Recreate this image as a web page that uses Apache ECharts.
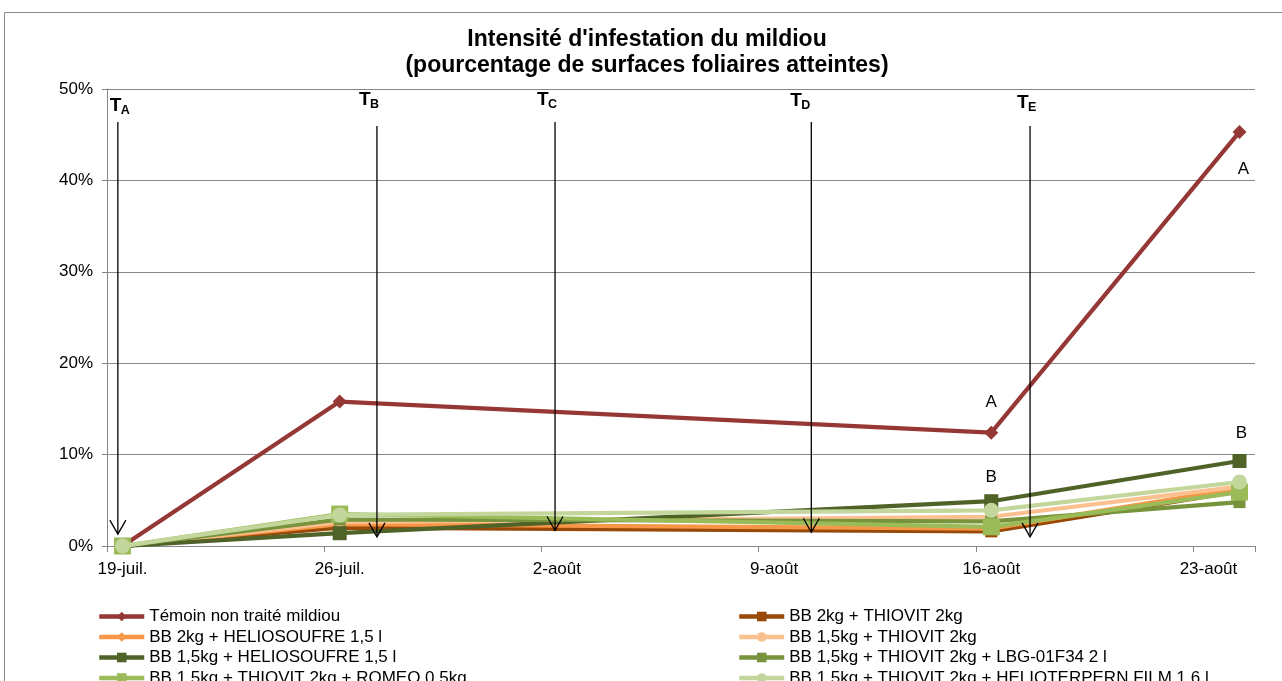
<!DOCTYPE html>
<html>
<head>
<meta charset="utf-8">
<script src="https://cdn.jsdelivr.net/npm/echarts@6/dist/echarts.min.js"></script>
<style>
html,body{margin:0;padding:0;background:#fff;}
#chart{width:1282px;height:681px;}
</style>
</head>
<body>
<div id="chart"></div>
<script>
// ---- data ----
const categories = [
  '19-juil.','20-juil.','21-juil.','22-juil.','23-juil.','24-juil.','25-juil.',
  '26-juil.','27-juil.','28-juil.','29-juil.','30-juil.','31-juil.',
  '1-août','2-août','3-août','4-août','5-août','6-août','7-août','8-août',
  '9-août','10-août','11-août','12-août','13-août','14-août','15-août',
  '16-août','17-août','18-août','19-août','20-août','21-août','22-août','23-août','24-août'
];
const sampleDates = ['19-juil.','26-juil.','16-août','24-août'];
const yTicks = [0, 10, 20, 30, 40, 50];

const seriesNames = [
  'Témoin non traité mildiou',
  'BB 2kg + THIOVIT 2kg',
  'BB 2kg + HELIOSOUFRE 1,5 l',
  'BB 1,5kg + THIOVIT 2kg',
  'BB 1,5kg + HELIOSOUFRE 1,5 l',
  'BB 1,5kg + THIOVIT 2kg + LBG-01F34 2 l',
  'BB 1,5kg + THIOVIT 2kg + ROMEO 0,5kg',
  'BB 1,5kg + THIOVIT 2kg + HELIOTERPERN FILM 1,6 l'
];
const temoin        = [0, 15.8, 12.4, 45.3];
const bb2Thiovit    = [0, 2.0, 1.6, 6.0];
const bb2Helio      = [0, 2.4, 1.9, 6.3];
const bb15Thiovit   = [0, 2.6, 3.2, 6.5];
const bb15Helio     = [0, 1.4, 4.9, 9.3];
const bb15Lbg       = [0, 2.9, 2.7, 4.8];
const bb15Romeo     = [0, 3.5, 2.1, 5.9];
const bb15Helioterp = [0, 3.4, 3.9, 7.0];
const seriesValues = [temoin, bb2Thiovit, bb2Helio, bb15Thiovit, bb15Helio, bb15Lbg, bb15Romeo, bb15Helioterp];

// statistical group letters
const temoinLetters = ['', '', 'A', 'A'];
const bb15HelioLetters = ['', '', 'B', 'B'];

// treatment arrows (day index from 19-juil., top value %, tip value %)
const arrowLetters = ['A', 'B', 'C', 'D', 'E'];
const arrowDays    = [-0.15, 8.2, 13.94, 22.2, 29.25];
const arrowTop     = [46.4, 45.95, 46.4, 46.4, 45.95];
const arrowTip     = [1.3, 1.0, 1.7, 1.5, 1.0];

// ---- styles ----
const FONT = '"Liberation Sans", Arial, sans-serif';
const colors  = ['#953735', '#984807', '#F79646', '#FAC090', '#4F6228', '#77933C', '#9BBB59', '#C3D69B'];
const symbols = ['diamond', 'rect', 'diamond', 'circle', 'rect', 'rect', 'rect', 'circle'];
const sizes   = [14, 12, 10, 10, 14, 12, 17, 15];
const tLabelOffset = [[-8, -24], [-18, -34], [-18, -30], [-21, -29], [-13, -31]];

const letterLabelStyle = {
  temoin: [null, null, {position: 'top', distance: 15, offset: [0, 0]}, {position: 'bottom', distance: 22, offset: [4, 0]}],
  helio:  [null, null, {position: 'top', distance: 8, offset: [0, 0]}, {position: 'top', distance: 12, offset: [2, 0]}]
};

function buildData(vals, letters, lstyle) {
  return vals.map((v, i) => {
    const item = {value: [sampleDates[i], v]};
    if (letters && letters[i]) {
      item.label = Object.assign({
        show: true, formatter: letters[i], color: '#000', fontSize: 17, fontFamily: FONT
      }, lstyle[i]);
    }
    return item;
  });
}

const lineSeries = seriesNames.map((name, k) => {
  let data;
  if (k === 0) data = buildData(seriesValues[k], temoinLetters, letterLabelStyle.temoin);
  else if (k === 4) data = buildData(seriesValues[k], bb15HelioLetters, letterLabelStyle.helio);
  else data = buildData(seriesValues[k]);
  return {
    name: name,
    type: 'line',
    xAxisIndex: 0,
    yAxisIndex: 0,
    data: data,
    connectNulls: true,
    symbol: symbols[k],
    symbolSize: sizes[k],
    showAllSymbol: true,
    lineStyle: {color: colors[k], width: 4.2},
    itemStyle: {color: colors[k]},
    emphasis: {disabled: true},
    animation: false,
    z: 2 + k
  };
});

const arrowSeries = {
  type: 'custom',
  xAxisIndex: 1,
  yAxisIndex: 0,
  z: 20,
  silent: true,
  animation: false,
  data: arrowDays.map((d, i) => [d, arrowTop[i], arrowTip[i]]),
  renderItem: function (params, api) {
    const i = params.dataIndex;
    const x = api.value(0);
    const p1 = api.coord([x, api.value(1)]);
    const p2 = api.coord([x, api.value(2)]);
    const off = tLabelOffset[i];
    const lx = p1[0] + off[0];
    const ly = p1[1] + off[1];
    return {
      type: 'group',
      children: [
        {type: 'line', shape: {x1: p1[0], y1: p1[1], x2: p2[0], y2: p2[1]},
         style: {stroke: '#000', lineWidth: 1.3}},
        {type: 'polyline', shape: {points: [[p2[0] - 8, p2[1] - 14], [p2[0], p2[1]], [p2[0] + 8, p2[1] - 14]]},
         style: {stroke: '#000', fill: null, lineWidth: 1.3}},
        {type: 'text', x: lx, y: ly - 2,
         style: {text: 'T', font: 'bold 19px ' + FONT, fill: '#000', verticalAlign: 'top', align: 'left'}},
        {type: 'text', x: lx + 11, y: ly + 6,
         style: {text: arrowLetters[i], font: 'bold 12.5px ' + FONT, fill: '#000', verticalAlign: 'top', align: 'left'}}
      ]
    };
  }
};

const legendCommon = {
  orient: 'vertical', top: 608, height: 120, padding: 0,
  itemWidth: 45, itemHeight: 12, itemGap: 3.5,
  textStyle: {fontSize: 17, color: '#000', fontFamily: FONT},
  lineStyle: {width: 4.5},
  selectedMode: false
};

const chart = echarts.init(document.getElementById('chart'), null, {renderer: 'canvas'});
chart.setOption({
  animation: false,
  backgroundColor: '#fff',
  textStyle: {fontFamily: FONT},
  title: {
    text: "Intensité d'infestation du mildiou\n(pourcentage de surfaces foliaires atteintes)",
    left: 642,
    top: 22,
    textAlign: 'center',
    textStyle: {fontSize: 23, fontWeight: 'bold', color: '#000', lineHeight: 26, fontFamily: FONT}
  },
  graphic: [{
    type: 'rect', silent: true,
    shape: {x: 4.5, y: 12.5, width: 1400, height: 800},
    style: {fill: null, stroke: '#888', lineWidth: 1}
  }],
  legend: [
    Object.assign({}, legendCommon, {
      left: 97,
      data: [seriesNames[0], seriesNames[2], seriesNames[4], seriesNames[6]]
    }),
    Object.assign({}, legendCommon, {
      left: 737,
      data: [seriesNames[1], seriesNames[3], seriesNames[5], seriesNames[7]]
    })
  ],
  grid: {left: 107, right: 27, top: 89, bottom: 135, containLabel: false},
  xAxis: [
    {
      type: 'category',
      data: categories,
      boundaryGap: true,
      axisLine: {show: true, onZero: false, lineStyle: {color: '#868686', width: 1}},
      axisTick: {show: true, interval: 6, length: 6, lineStyle: {color: '#868686'}},
      axisLabel: {interval: 6, fontSize: 17, color: '#000', margin: 15, fontFamily: FONT},
      splitLine: {show: false}
    },
    {
      type: 'value', min: -0.5, max: 36.5, show: false
    }
  ],
  yAxis: {
    type: 'value',
    min: yTicks[0],
    max: yTicks[yTicks.length - 1],
    interval: yTicks[1] - yTicks[0],
    axisLine: {show: true, onZero: false, lineStyle: {color: '#868686', width: 1}},
    axisTick: {show: true, length: 5, lineStyle: {color: '#868686'}},
    axisLabel: {formatter: '{value}%', fontSize: 17, color: '#000', margin: 14, fontFamily: FONT},
    splitLine: {show: true, lineStyle: {color: '#868686', width: 1}}
  },
  series: lineSeries.concat([arrowSeries])
});
</script>
</body>
</html>
